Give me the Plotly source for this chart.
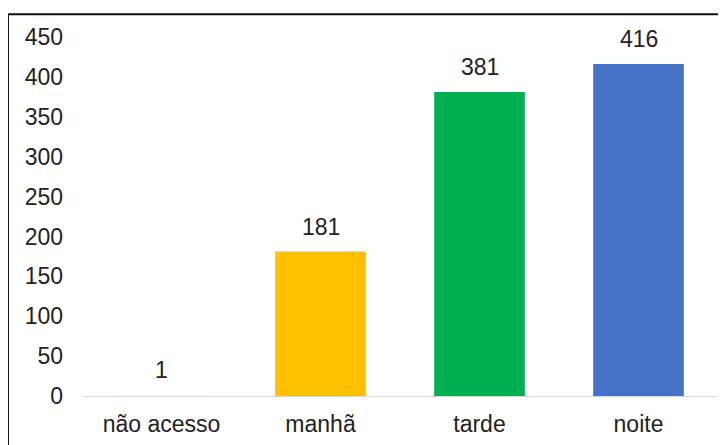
import plotly.graph_objects as go

# data
periodos = ["não acesso", "manhã", "tarde", "noite"]
acessos = [1, 181, 381, 416]
cores = ["#F2F2F2", "#FFC000", "#00B050", "#4472C4"]
y_ticks = [0, 50, 100, 150, 200, 250, 300, 350, 400, 450]

FONT = "Liberation Sans, Arial, sans-serif"

fig = go.Figure(
    data=[
        go.Bar(
            x=periodos,
            y=acessos,
            marker=dict(color=cores, line=dict(width=0)),
            showlegend=False,
        )
    ]
)

# value labels above the bars
for p, v in zip(periodos, acessos):
    fig.add_annotation(
        x=p,
        y=v,
        text=str(v),
        showarrow=False,
        yanchor="bottom",
        yshift=10,
        font=dict(family=FONT, size=23, color="#222222"),
    )

# outer frame (cut off at right / bottom like the screenshot)
fig.add_shape(
    type="rect",
    xref="paper",
    yref="paper",
    x0=-0.1164,
    x1=1.05,
    y0=-0.2,
    y1=1.0637,
    line=dict(color="#111111", width=2),
    layer="above",
)

# page body has an 8px margin, so the figure is 8px smaller
fig.update_layout(
    width=718,
    height=437,
    autosize=False,
    margin=dict(l=74, r=8, t=29, b=44),
    plot_bgcolor="white",
    paper_bgcolor="white",
    font=dict(family=FONT, size=23, color="#222222"),
    bargap=0.43,
)

fig.update_yaxes(
    range=[0, 450],
    tickvals=y_ticks,
    showgrid=False,
    zeroline=False,
    showline=False,
    ticks="",
    ticklabelstandoff=18,
)

fig.update_xaxes(
    showline=True,
    linecolor="#D9D9D9",
    linewidth=1,
    ticks="",
    ticklabelstandoff=7,
)

fig.write_html("out.html")
